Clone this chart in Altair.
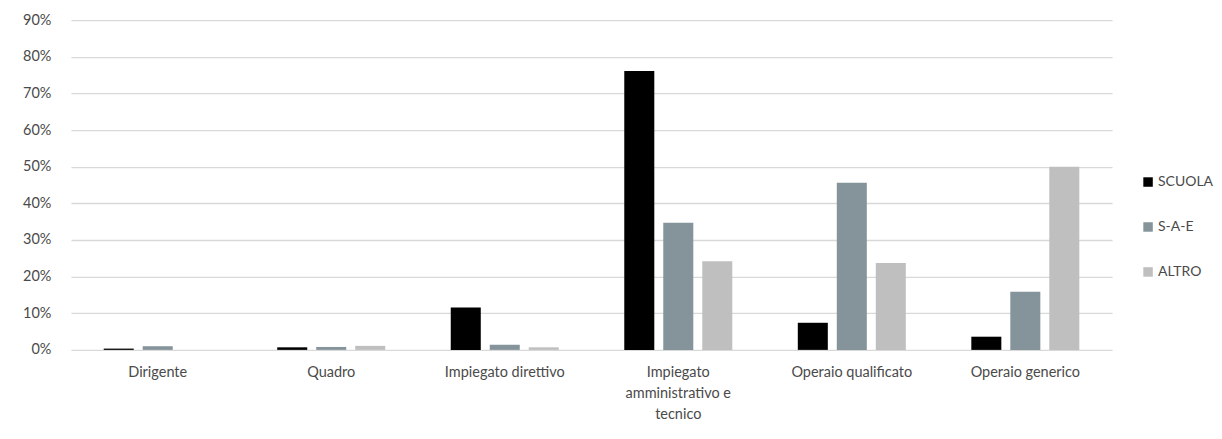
import altair as alt
import pandas as pd

categories = ["Dirigente", "Quadro", "Impiegato direttivo",
              "Impiegato amministrativo e tecnico", "Operaio qualificato", "Operaio generico"]
series = ["SCUOLA", "S-A-E", "ALTRO"]
scuola = [0.0035, 0.007, 0.116, 0.761, 0.074, 0.036]
sae = [0.010, 0.008, 0.014, 0.347, 0.456, 0.159]
altro = [0.0, 0.011, 0.007, 0.242, 0.237, 0.500]
colors = ["#000000", "#84949A", "#BFBFBF"]

rows = []
for s, vals in zip(series, [scuola, sae, altro]):
    for c, v in zip(categories, vals):
        rows.append({"cat": c, "serie": s, "val": v})
df = pd.DataFrame(rows)

font = "Lato"
txt = "#4a4a4a"

chart = alt.Chart(df).mark_bar().encode(
    x=alt.X("cat:N", sort=categories, title=None,
            scale=alt.Scale(paddingInner=0, paddingOuter=0),
            axis=alt.Axis(labelAngle=0, labelColor=txt, labelFont=font, labelFontSize=14.5,
                          labelPadding=16, labelLimit=200, labelLineHeight=21,
                          domain=False, ticks=False, grid=False,
                          labelExpr="datum.label == 'Impiegato amministrativo e tecnico' ? ['Impiegato', 'amministrativo e', 'tecnico'] : datum.label")),
    xOffset=alt.XOffset("serie:N", sort=series,
                        scale=alt.Scale(paddingInner=0.23, paddingOuter=0.84)),
    y=alt.Y("val:Q", title=None,
            scale=alt.Scale(domain=[0, 0.9], nice=False),
            axis=alt.Axis(format=".0%", values=[i / 10 for i in range(10)],
                          labelColor=txt, labelFont=font, labelFontSize=14.5, labelPadding=20,
                          domain=False, ticks=False, gridColor="#D9D9D9", gridWidth=1.3)),
    color=alt.Color("serie:N", sort=series,
                    scale=alt.Scale(domain=series, range=colors),
                    legend=alt.Legend(title=None, orient="none", legendX=1071, legendY=155,
                                      symbolType="square", symbolSize=90, symbolStrokeWidth=0,
                                      labelFont=font, labelFontSize=14, labelColor=txt,
                                      rowPadding=31, labelOffset=3)),
).properties(width=1042, height=330,
             padding={"left": 14, "top": 4, "right": 0, "bottom": 0})

chart = chart.configure_view(strokeWidth=0, stroke="transparent")

chart.save("out.html", embed_options={"renderer": "svg", "actions": False})
